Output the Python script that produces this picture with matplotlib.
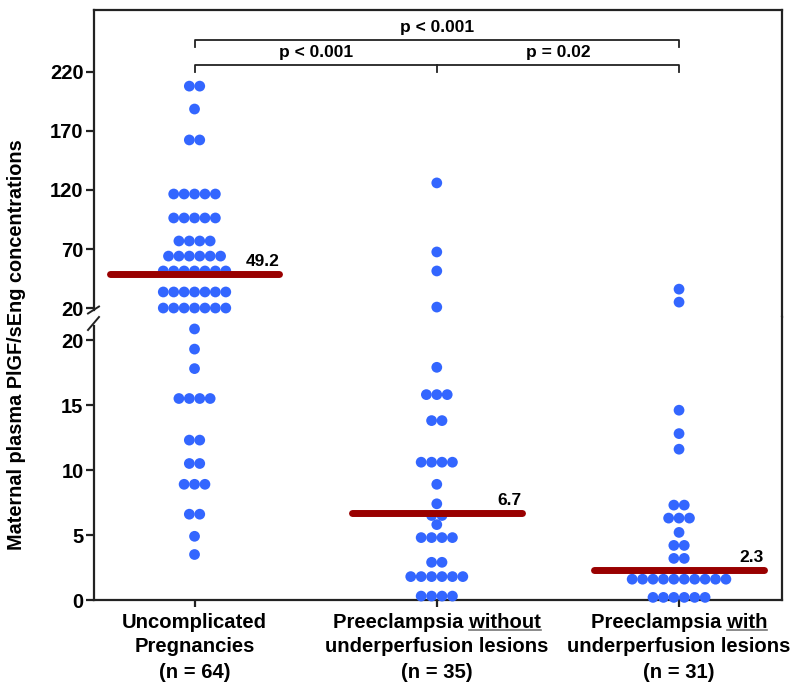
import numpy as np
import matplotlib.pyplot as plt
from matplotlib.lines import Line2D
from matplotlib.transforms import blended_transform_factory

plt.rcParams['font.family'] = ['Liberation Sans', 'DejaVu Sans']
plt.rcParams['font.weight'] = 'bold'

# groups and labels
groups = ['Uncomplicated\nPregnancies\n(n = 64)',
          'Preeclampsia without\nunderperfusion lesions\n(n = 35)',
          'Preeclampsia with\nunderperfusion lesions\n(n = 31)']
underlined = [None, 'without', 'with']
medians = [49.2, 6.7, 2.3]
median_labels = ['49.2', '6.7', '2.3']

# dot rows: (value, count); upper = broken-axis top part
g1_upper_vals = [208, 188.6, 162.4, 116.6, 96.3, 76.8, 64, 51.4, 33.6, 20]
g1_upper_cnts = [2, 1, 2, 5, 5, 4, 6, 7, 7, 7]
g1_lower_vals = [20.85, 19.3, 17.8, 15.5, 12.3, 10.5, 8.9, 6.6, 4.9, 3.5]
g1_lower_cnts = [1, 1, 1, 4, 2, 2, 3, 2, 1, 1]

g2_upper_vals = [126, 67.5, 51.4, 20.8]
g2_upper_cnts = [1, 1, 1, 1]
g2_lower_vals = [17.9, 15.8, 13.8, 10.6, 8.9, 7.4, 6.5, 5.8, 4.8, 2.9, 1.8, 0.3]
g2_lower_cnts = [1, 3, 2, 4, 1, 1, 2, 1, 4, 2, 6, 4]

g3_upper_vals = [36, 25]
g3_upper_cnts = [1, 1]
g3_lower_vals = [14.6, 12.8, 11.6, 7.3, 6.3, 5.2, 4.2, 3.2, 1.6, 0.2]
g3_lower_cnts = [1, 1, 1, 2, 3, 1, 2, 2, 10, 6]

upper_ticks = [20, 70, 120, 170, 220]
lower_ticks = [0, 5, 10, 15, 20]

# brackets: (x0, x1, y, label)
brackets_top = (0, 2, 247, 'p < 0.001')
brackets_mid = [(0, 1, 226, 'p < 0.001'), (1, 2, 226, 'p = 0.02')]

DOT = '#3366ff'
MED = '#990000'
SPINE = '#222222'
W, H = 800, 692

fig = plt.figure(figsize=(8, 6.92), dpi=100)
left, right = 94 / W, 782 / W
split = 1 - 317 / H
ax_hi = fig.add_axes([left, split, right - left, (1 - 10 / H) - split])
ax_lo = fig.add_axes([left, 1 - 600 / H, right - left, split - (1 - 600 / H)])

for ax in (ax_hi, ax_lo):
    ax.set_xlim(-0.415, 2.425)
    for s in ax.spines.values():
        s.set_linewidth(1.6)
        s.set_color(SPINE)
    ax.tick_params(axis='y', length=5.5, width=1.6, color=SPINE, pad=2)

ax_hi.set_ylim(12.4, 272.5)
ax_lo.set_ylim(0, 21.77)
ax_hi.spines['bottom'].set_visible(False)
ax_lo.spines['top'].set_visible(False)
ax_hi.spines['left'].set_bounds(18.0, 272.5)
ax_lo.spines['left'].set_bounds(0, 21.1)
ax_hi.set_xticks([])
ax_lo.set_xticks([0, 1, 2])
ax_lo.set_xticklabels([])
ax_lo.tick_params(axis='x', length=5, width=1.6, color=SPINE)
ax_hi.set_yticks(upper_ticks)
ax_lo.set_yticks(lower_ticks)
ax_hi.set_yticklabels([str(v) for v in upper_ticks], fontweight='bold', fontsize=14.5)
ax_lo.set_yticklabels([str(v) for v in lower_ticks], fontweight='bold', fontsize=14.5)

dx = 0.043
rows = [(ax_hi, 0, g1_upper_vals, g1_upper_cnts), (ax_lo, 0, g1_lower_vals, g1_lower_cnts),
        (ax_hi, 1, g2_upper_vals, g2_upper_cnts), (ax_lo, 1, g2_lower_vals, g2_lower_cnts),
        (ax_hi, 2, g3_upper_vals, g3_upper_cnts), (ax_lo, 2, g3_lower_vals, g3_lower_cnts)]
for ax, gi, vals, cnts in rows:
    xs, ys = [], []
    for v, n in zip(vals, cnts):
        for k in range(n):
            xs.append(gi + (k - (n - 1) / 2) * dx)
            ys.append(v)
    ax.scatter(xs, ys, s=60, color=DOT, edgecolors='none', zorder=3, clip_on=False)

# medians
for i, (m, lab) in enumerate(zip(medians, median_labels)):
    ax = ax_hi if m > 21 else ax_lo
    ax.plot([i - 0.35, i + 0.35], [m, m], color=MED, lw=5, solid_capstyle='round', zorder=4)
    ax.annotate(lab, (i + 0.35, m), xytext=(0, 3.5), textcoords='offset points',
                ha='right', va='bottom', fontsize=12.5, fontweight='bold')

# significance brackets
def bracket(x0, x1, y, mid=None):
    ax_hi.plot([x0, x0, x1, x1], [y - 6, y, y, y - 6], color=SPINE, lw=1.3, clip_on=False)
    if mid is not None:
        ax_hi.plot([mid, mid], [y, y - 6], color=SPINE, lw=1.3)

bracket(*brackets_top[:3])
ax_hi.text((brackets_top[0] + brackets_top[1]) / 2, brackets_top[2] + 4, brackets_top[3],
           ha='center', va='bottom', fontsize=12.5, fontweight='bold')
bracket(0, 2, brackets_mid[0][2], mid=1)
for x0, x1, y, lab in brackets_mid:
    ax_hi.text((x0 + x1) / 2, y + 4, lab, ha='center', va='bottom',
               fontsize=12.5, fontweight='bold')

# axis break marks
for y0, y1 in [(313.5, 306.5), (330, 317)]:
    fig.add_artist(Line2D([88 / W, 99 / W], [1 - y0 / H, 1 - y1 / H],
                          color=SPINE, lw=1.4))

fig.text(17 / W, 1 - 345 / H, 'Maternal plasma PlGF/sEng concentrations',
         rotation=90, ha='center', va='center', fontsize=14.3, fontweight='bold')

# x labels, one line at a time
tr = blended_transform_factory(ax_lo.transData, fig.transFigure)
line_y = [623, 647, 672]
fig.canvas.draw()
rend = fig.canvas.get_renderer()
inv = fig.transFigure.inverted()
for i, lab in enumerate(groups):
    for j, line in enumerate(lab.split('\n')):
        t = ax_lo.text(i, 1 - line_y[j] / H, line, transform=tr, ha='center', va='center',
                       fontsize=14.6, fontweight='bold')
        if j == 0 and underlined[i]:
            bb = t.get_window_extent(rend)
            tmp = ax_lo.text(0, 0, underlined[i], fontsize=14.6, fontweight='bold')
            wb = tmp.get_window_extent(rend)
            tmp.remove()
            x1 = bb.x1
            x0 = bb.x1 - wb.width
            yb = bb.y0 + 2.5
            (fx0, fy), (fx1, _) = inv.transform([(x0, yb), (x1, yb)])
            fig.add_artist(Line2D([fx0, fx1], [fy, fy], color='#777777', lw=1.2))

fig.savefig('out.png', dpi=100)
